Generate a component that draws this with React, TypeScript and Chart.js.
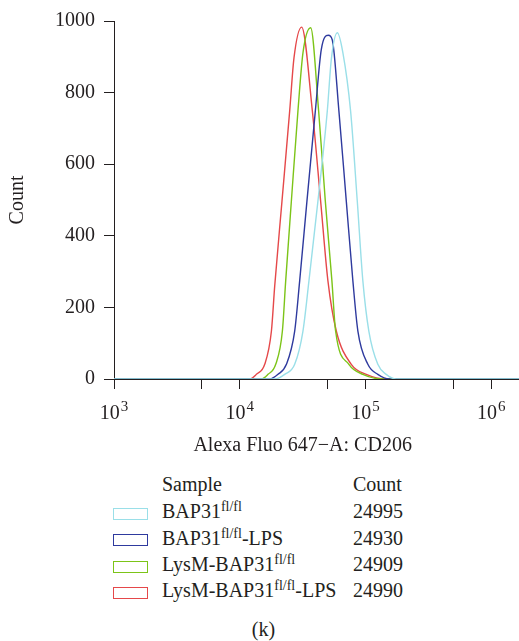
import React, { useEffect, useRef } from 'react';
import { Chart, registerables } from 'chart.js';

Chart.register(...registerables);

const FONT = "'Liberation Serif', 'Times New Roman', serif";
const INK = '#231f20';

// axes
const X_MIN = 1e3;
const X_MAX = 1.66e6;
const xTickValues = [1e3, 5e3, 1e4, 5e4, 1e5, 5e5, 1e6];
const xLabelExponents = [3, 4, 5, 6];
const Y_MIN = 0;
const Y_MAX = 1000;
const Y_STEP = 200;
const xTitle = 'Alexa Fluo 647\u2212A: CD206';
const yTitle = 'Count';
const panelLabel = '(k)';

// series (fluorescence value, event count)
const cyanX = [1000, 18960, 22760, 27330, 31800, 35480, 41820, 49660, 53440, 59630, 66070, 76030, 85940, 95200, 106200, 125200, 146000, 175300, 1660000];
const cyanY = [0, 0, 13, 41, 134, 274, 497, 749, 893, 967, 911, 749, 497, 274, 134, 41, 13, 0, 0];

const blueX = [1000, 17300, 20140, 23480, 27330, 29940, 34200, 39890, 44500, 50580, 54410, 61390, 70300, 79300, 86900, 104300, 125200, 155000, 1660000];
const blueY = [0, 0, 13, 41, 134, 274, 497, 749, 921, 960, 947, 749, 497, 274, 134, 41, 13, 0, 0];

const greenX = [1000, 14870, 16770, 19310, 21820, 23180, 25720, 29010, 31800, 36600, 42360, 47880, 54020, 57800, 73700, 95200, 137200, 1660000];
const greenY = [0, 0, 13, 41, 134, 274, 497, 749, 911, 981, 749, 497, 274, 134, 41, 13, 0, 0];

const redX = [1000, 12010, 13570, 15790, 17850, 18960, 21660, 24940, 26980, 31050, 37760, 43950, 50220, 58550, 77000, 101300, 146000, 1660000];
const redY = [0, 0, 13, 41, 134, 260, 497, 749, 897, 983, 749, 497, 274, 134, 41, 13, 0, 0];

// legend table
const sampleBase = ['BAP31', 'BAP31', 'LysM-BAP31', 'LysM-BAP31'];
const sampleSup = ['fl/fl', 'fl/fl', 'fl/fl', 'fl/fl'];
const sampleSuffix = ['', '-LPS', '', '-LPS'];
const sampleCounts = [24995, 24930, 24909, 24990];
const sampleColors = ['#9adfe8', '#2e3a9e', '#7cc418', '#e5484a'];
const seriesX = [cyanX, blueX, greenX, redX];
const seriesY = [cyanY, blueY, greenY, redY];

const axisTextPlugin = {
  id: 'axisText',
  afterDraw(chart: any) {
    const { ctx, chartArea, scales } = chart;
    const xs = scales.x;
    ctx.save();
    ctx.fillStyle = INK;
    ctx.textBaseline = 'alphabetic';
    ctx.textAlign = 'left';
    for (const e of xLabelExponents) {
      const px = xs.getPixelForValue(Math.pow(10, e));
      ctx.font = `20px ${FONT}`;
      const w1 = ctx.measureText('10').width;
      ctx.font = `15px ${FONT}`;
      const w2 = ctx.measureText(String(e)).width;
      const gap = 1;
      const left = px - (w1 + gap + w2) / 2;
      ctx.font = `20px ${FONT}`;
      ctx.fillText('10', left, chartArea.bottom + 40);
      ctx.font = `15px ${FONT}`;
      ctx.fillText(String(e), left + w1 + gap, chartArea.bottom + 32);
    }
    ctx.font = `20px ${FONT}`;
    ctx.textAlign = 'center';
    const cx = (xs.getPixelForValue(1e3) + xs.getPixelForValue(1e6)) / 2;
    ctx.fillText(xTitle, cx, chartArea.bottom + 72);
    ctx.restore();
  },
};

const CANVAS_W = 519;
const CANVAS_H = 470;

export default function App() {
  const ref = useRef<HTMLCanvasElement | null>(null);

  useEffect(() => {
    if (!ref.current) return;
    const datasets = seriesX.map((xs, i) => ({
      label: sampleBase[i] + sampleSup[i] + sampleSuffix[i],
      data: xs.map((x, j) => ({ x, y: seriesY[i][j] })),
      borderColor: sampleColors[i],
      backgroundColor: sampleColors[i],
      borderWidth: 1.4,
      pointRadius: 0,
      fill: false,
      cubicInterpolationMode: 'monotone' as const,
    }));
    const chart = new Chart(ref.current, {
      type: 'line',
      data: { datasets },
      plugins: [axisTextPlugin],
      options: {
        animation: false,
        responsive: false,
        maintainAspectRatio: false,
        layout: { padding: { top: 20, left: 0, right: 0, bottom: 0 } },
        plugins: { legend: { display: false }, tooltip: { enabled: false } },
        scales: {
          x: {
            type: 'logarithmic',
            min: X_MIN,
            max: X_MAX,
            afterBuildTicks: (scale: any) => {
              scale.ticks = xTickValues.map((v) => ({ value: v }));
            },
            afterFit: (scale: any) => {
              scale.height = CANVAS_H - 379;
            },
            ticks: { autoSkip: false, maxRotation: 0, callback: () => '' },
            grid: { drawOnChartArea: false, drawTicks: true, tickLength: 10, color: INK, lineWidth: 1 },
            border: { display: true, color: INK, width: 1 },
          },
          y: {
            type: 'linear',
            min: Y_MIN,
            max: Y_MAX,
            afterFit: (scale: any) => {
              scale.width = 114;
            },
            ticks: {
              stepSize: Y_STEP,
              color: INK,
              padding: 9,
              font: { family: FONT, size: 20 },
              callback: (v: any) => String(v),
            },
            grid: { drawOnChartArea: false, drawTicks: true, tickLength: 10, color: INK, lineWidth: 1 },
            border: { display: true, color: INK, width: 1 },
            title: {
              display: true,
              text: yTitle,
              color: INK,
              font: { family: FONT, size: 20 },
              padding: { top: 6, bottom: 0 },
            },
          },
        },
      },
    });
    return () => chart.destroy();
  }, []);

  const rowBaseline = (i: number) => 518 + i * 26.3;
  const textTop = (baseline: number) => baseline - 18.75;

  return (
    <div style={{ position: 'absolute', left: 0, top: 0, width: 519, height: 641, background: '#fff', fontFamily: FONT, color: INK, overflow: 'hidden' }}>
      <canvas ref={ref} width={CANVAS_W} height={CANVAS_H} style={{ position: 'absolute', left: 0, top: 0, display: 'block' }} />
      <div style={{ position: 'absolute', left: 162, top: textTop(491), fontSize: 20, lineHeight: '24px', whiteSpace: 'nowrap' }}>Sample</div>
      <div style={{ position: 'absolute', left: 353, top: textTop(491), fontSize: 20, lineHeight: '24px', whiteSpace: 'nowrap' }}>Count</div>
      {sampleBase.map((b, i) => (
        <React.Fragment key={i}>
          <div
            style={{
              position: 'absolute',
              left: 113,
              top: rowBaseline(i) - 4 - 6,
              width: 35,
              height: 12,
              boxSizing: 'border-box',
              border: `1.5px solid ${sampleColors[i]}`,
              background: '#fff',
            }}
          />
          <div style={{ position: 'absolute', left: 162, top: textTop(rowBaseline(i)), fontSize: 20, lineHeight: '24px', whiteSpace: 'nowrap' }}>
            {b}
            <span style={{ fontSize: 14, verticalAlign: '7px', lineHeight: 0 }}>{sampleSup[i]}</span>
            {sampleSuffix[i]}
          </div>
          <div style={{ position: 'absolute', left: 353, top: textTop(rowBaseline(i)), fontSize: 20, lineHeight: '24px', whiteSpace: 'nowrap' }}>
            {sampleCounts[i]}
          </div>
        </React.Fragment>
      ))}
      <div style={{ position: 'absolute', left: 0, width: 527, textAlign: 'center', top: textTop(636), fontSize: 20, lineHeight: '24px' }}>{panelLabel}</div>
    </div>
  );
}
